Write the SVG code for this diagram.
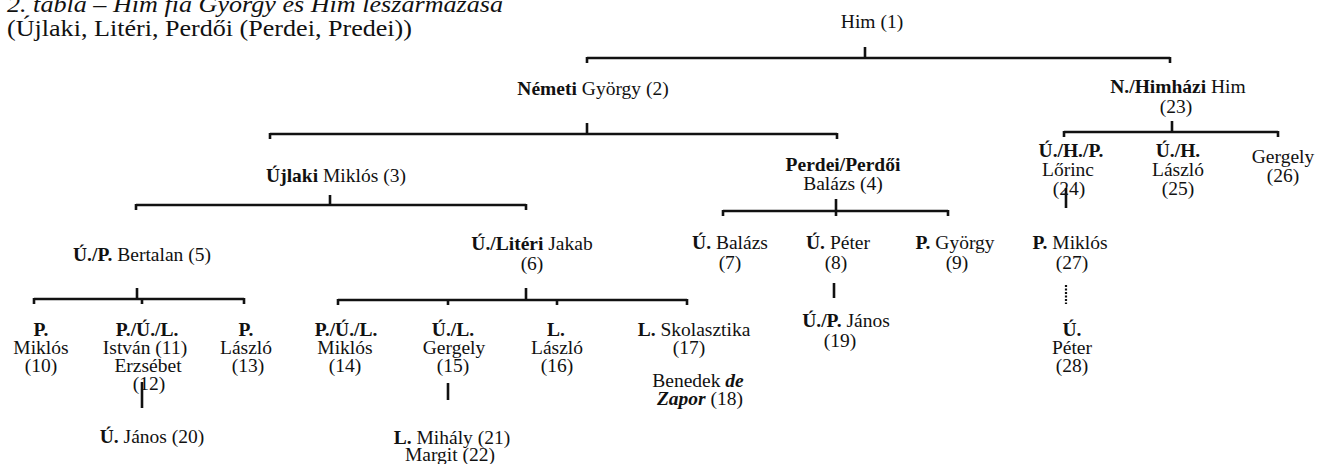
<svg xmlns="http://www.w3.org/2000/svg" width="1317" height="464" viewBox="0 0 1317 464">
<style>
text{font-family:"Liberation Serif","Times New Roman",serif;font-size:19.5px;fill:#111;text-anchor:middle}
.b{font-weight:bold}
.i{font-style:italic}
.title{text-anchor:start;font-size:24px}
.c line{stroke:#111;stroke-width:2.6;fill:none}
.c .dot{stroke-dasharray:2 1.5;stroke-width:2.2}
</style>
<rect width="1317" height="464" fill="#fff"/>
<g id="title">
<text class="title i" x="7" y="12" textLength="496" lengthAdjust="spacingAndGlyphs">2. tábla – Him fia György és Him leszármazása</text>
<text class="title" x="7" y="36" textLength="405" lengthAdjust="spacingAndGlyphs">(Újlaki, Litéri, Perdői (Perdei, Predei))</text>
</g>
<g class="c" id="connectors">
<line x1="865" y1="47" x2="865" y2="58"/><line x1="587" y1="58" x2="1170" y2="58"/><line x1="587" y1="57" x2="587" y2="63"/><line x1="1170" y1="57" x2="1170" y2="63"/>
<line x1="587" y1="123" x2="587" y2="134"/><line x1="270" y1="134" x2="837" y2="134"/><line x1="270" y1="133" x2="270" y2="139"/><line x1="837" y1="133" x2="837" y2="139"/>
<line x1="330" y1="195" x2="330" y2="205"/><line x1="136" y1="205" x2="526" y2="205"/><line x1="136" y1="204" x2="136" y2="210"/><line x1="526" y1="204" x2="526" y2="210"/>
<line x1="836" y1="199" x2="836" y2="216"/><line x1="723" y1="211" x2="948" y2="211"/><line x1="723" y1="210" x2="723" y2="216"/><line x1="948" y1="210" x2="948" y2="216"/>
<line x1="1172" y1="121" x2="1172" y2="132"/><line x1="1064" y1="132" x2="1278" y2="132"/><line x1="1064" y1="131" x2="1064" y2="137"/><line x1="1278" y1="131" x2="1278" y2="137"/>
<line x1="137" y1="288" x2="137" y2="299"/><line x1="34" y1="299" x2="244" y2="299"/><line x1="34" y1="298" x2="34" y2="304"/><line x1="142" y1="298" x2="142" y2="304"/><line x1="244" y1="298" x2="244" y2="304"/>
<line x1="526" y1="288" x2="526" y2="300"/><line x1="338" y1="300" x2="687" y2="300"/><line x1="338" y1="299" x2="338" y2="305"/><line x1="448" y1="299" x2="448" y2="305"/><line x1="557" y1="299" x2="557" y2="305"/><line x1="687" y1="299" x2="687" y2="305"/>
<line x1="142" y1="382" x2="142" y2="408"/>
<line x1="448" y1="383" x2="448" y2="400"/>
<line x1="834" y1="283" x2="834" y2="298"/>
<line x1="1066" y1="188" x2="1066" y2="208"/>
<line class="dot" x1="1066" y1="285" x2="1066" y2="304"/>
</g>
<g id="n1"><text x="872" y="28">Him (1)</text></g>
<g id="n2"><text x="593" y="95"><tspan class="b">Németi</tspan> György (2)</text></g>
<g id="n3"><text x="336" y="182"><tspan class="b">Újlaki</tspan> Miklós (3)</text></g>
<g id="n4"><text x="843" y="171" class="b">Perdei/Perdői</text><text x="843" y="190">Balázs (4)</text></g>
<g id="n5"><text x="142" y="261"><tspan class="b">Ú./P.</tspan> Bertalan (5)</text></g>
<g id="n6"><text x="532" y="250"><tspan class="b">Ú./Litéri</tspan> Jakab</text><text x="532" y="270">(6)</text></g>
<g id="n7"><text x="730" y="249"><tspan class="b">Ú.</tspan> Balázs</text><text x="730" y="269">(7)</text></g>
<g id="n8"><text x="838" y="249"><tspan class="b">Ú.</tspan> Péter</text><text x="836" y="269">(8)</text></g>
<g id="n9"><text x="955" y="249"><tspan class="b">P.</tspan> György</text><text x="957" y="269">(9)</text></g>
<g id="n10"><text x="41" y="336" class="b">P.</text><text x="41" y="354">Miklós</text><text x="41" y="372">(10)</text></g>
<g id="n11"><text x="147" y="336" class="b">P./Ú./L.</text><text x="145" y="354">István (11)</text><text x="148" y="372">Erzsébet</text><text x="149" y="390">(12)</text></g>
<g id="n13"><text x="246" y="336" class="b">P.</text><text x="246" y="354">László</text><text x="248" y="372">(13)</text></g>
<g id="n14"><text x="346" y="336" class="b">P./Ú./L.</text><text x="345" y="354">Miklós</text><text x="345" y="372">(14)</text></g>
<g id="n15"><text x="453" y="336" class="b">Ú./L.</text><text x="454" y="354">Gergely</text><text x="453" y="372">(15)</text></g>
<g id="n16"><text x="556" y="336" class="b">L.</text><text x="557" y="354">László</text><text x="557" y="372">(16)</text></g>
<g id="n17"><text x="694" y="336"><tspan class="b">L.</tspan> Skolasztika</text><text x="689" y="354">(17)</text><text x="698" y="387">Benedek <tspan class="b i">de</tspan></text><text x="700" y="405"><tspan class="b i">Zapor</tspan> (18)</text></g>
<g id="n19"><text x="846" y="327"><tspan class="b">Ú./P.</tspan> János</text><text x="840" y="347">(19)</text></g>
<g id="n20"><text x="152" y="443"><tspan class="b">Ú.</tspan> János (20)</text></g>
<g id="n21"><text x="452" y="444"><tspan class="b">L.</tspan> Mihály (21)</text><text x="450" y="461">Margit (22)</text></g>
<g id="n23"><text x="1178" y="93"><tspan class="b">N./Himházi</tspan> Him</text><text x="1176" y="113">(23)</text></g>
<g id="n24"><text x="1071" y="157" class="b">Ú./H./P.</text><text x="1068" y="176">Lőrinc</text><text x="1069" y="195">(24)</text></g>
<g id="n25"><text x="1178" y="157" class="b">Ú./H.</text><text x="1178" y="176">László</text><text x="1178" y="195">(25)</text></g>
<g id="n26"><text x="1283" y="163">Gergely</text><text x="1283" y="182">(26)</text></g>
<g id="n27"><text x="1070" y="249"><tspan class="b">P.</tspan> Miklós</text><text x="1072" y="269">(27)</text></g>
<g id="n28"><text x="1072" y="336" class="b">Ú.</text><text x="1072" y="354">Péter</text><text x="1072" y="372">(28)</text></g>
</svg>
